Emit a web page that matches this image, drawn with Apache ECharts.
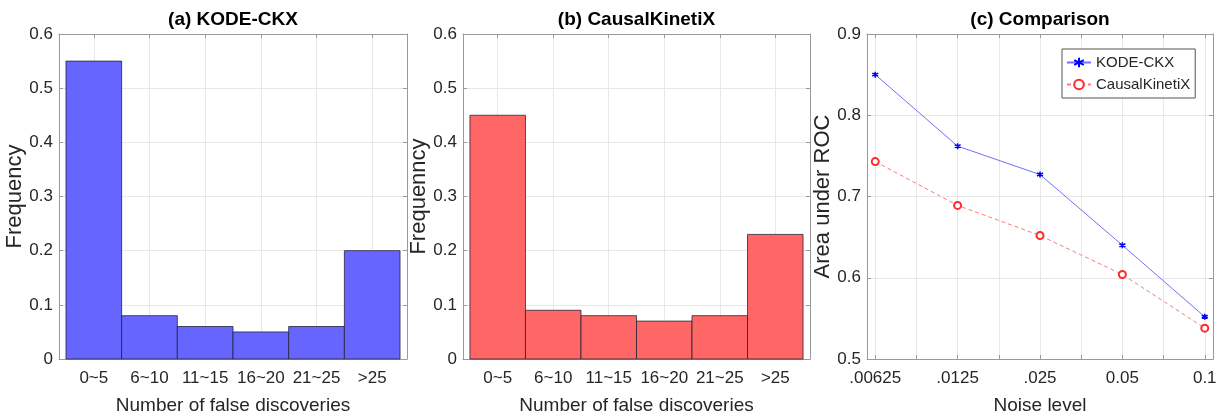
<!DOCTYPE html>
<html>
<head>
<meta charset="utf-8">
<script src="https://cdn.jsdelivr.net/npm/echarts@6/dist/echarts.min.js"></script>
<style>html,body{margin:0;padding:0;background:#fff;}#c{width:1223px;height:420px;}</style>
</head>
<body>
<div id="c"></div>
<script>
// ---- data ----
const categories = ['0~5', '6~10', '11~15', '16~20', '21~25', '>25'];
const kodeFreq = [0.55, 0.08, 0.06, 0.05, 0.06, 0.20];
const ckxFreq = [0.45, 0.09, 0.08, 0.07, 0.08, 0.23];
const noiseLevels = ['.00625', '.0125', '.025', '0.05', '0.1'];
const kodeAUC = [0.850, 0.762, 0.727, 0.640, 0.552];
const ckxAUC = [0.743, 0.689, 0.652, 0.604, 0.538];
const titles = ['(a) KODE-CKX', '(b) CausalKinetiX', '(c) Comparison'];
const yNames = ['Frequency', 'Frequenncy', 'Area under ROC'];
const xNames = ['Number of false discoveries', 'Number of false discoveries', 'Noise level'];
const seriesNames = ['KODE-CKX', 'CausalKinetiX'];

// ---- style ----
const FONT = '"Liberation Sans", Arial, Helvetica, sans-serif';
const TXT = '#262626';
const FRAME = '#9a9a9a';
const GRIDC = '#e8e8e8';
const grids = [
  {left: 59, top: 34, width: 348, height: 326},
  {left: 463, top: 34, width: 347, height: 326},
  {left: 867, top: 34, width: 346, height: 326}
];

const catIdx = categories.map((_, i) => i);
const noiseIdx = noiseLevels.map((_, i) => i + 1);
const noiseMinor = [];
for (let i = 0; i < noiseLevels.length * 2 - 1; i++) noiseMinor.push(1 + i * 0.5);

function xAxes(gi, min, max, tickVals, labelVals, fmt, name) {
  return [
    {
      type: 'value', gridIndex: gi, min: min, max: max, position: 'bottom',
      name: name, nameLocation: 'middle', nameGap: 37,
      nameTextStyle: {fontFamily: FONT, fontSize: 19, color: TXT},
      axisLine: {show: true, onZero: false, lineStyle: {color: FRAME, width: 1}},
      axisTick: {show: true, inside: true, length: 4, customValues: tickVals, lineStyle: {color: FRAME}},
      axisLabel: {show: true, customValues: labelVals, formatter: fmt, margin: 11,
                  fontFamily: FONT, fontSize: 17, color: TXT},
      splitLine: {show: true, lineStyle: {color: GRIDC, width: 1}}
    },
    {
      type: 'value', gridIndex: gi, min: min, max: max, position: 'top',
      axisLine: {show: true, onZero: false, lineStyle: {color: FRAME, width: 1}},
      axisTick: {show: true, inside: true, length: 4, customValues: tickVals, lineStyle: {color: FRAME}},
      axisLabel: {show: false},
      splitLine: {show: false}
    }
  ];
}
function yAxes(gi, min, max, interval, name, gap) {
  return [
    {
      type: 'value', gridIndex: gi, min: min, max: max, interval: interval, position: 'left',
      name: name, nameLocation: 'middle', nameGap: gap,
      nameTextStyle: {fontFamily: FONT, fontSize: 22, color: TXT},
      axisLine: {show: true, onZero: false, lineStyle: {color: FRAME, width: 1}},
      axisTick: {show: true, inside: true, length: 4, lineStyle: {color: FRAME}},
      axisLabel: {show: true, margin: 6, fontFamily: FONT, fontSize: 17, color: TXT,
                  formatter: v => (Math.round(v * 10) / 10).toString()},
      splitLine: {show: true, lineStyle: {color: GRIDC, width: 1}}
    },
    {
      type: 'value', gridIndex: gi, min: min, max: max, interval: interval, position: 'right',
      axisLine: {show: true, onZero: false, lineStyle: {color: FRAME, width: 1}},
      axisTick: {show: true, inside: true, length: 4, lineStyle: {color: FRAME}},
      axisLabel: {show: false},
      splitLine: {show: false}
    }
  ];
}

const catFmt = v => categories[Math.round(v)] || '';
const noiseFmt = v => noiseLevels[Math.round(v) - 1] || '';

function histSeries(axisIdx, values, fill) {
  return {
    type: 'custom', xAxisIndex: axisIdx, yAxisIndex: axisIdx,
    data: values.map((v, i) => [i, v]),
    renderItem: function (params, api) {
      const x = api.value(0), y = api.value(1);
      const p0 = api.coord([x - 0.5, y]);
      const p1 = api.coord([x + 0.5, 0]);
      return {
        type: 'rect',
        shape: {x: p0[0], y: p0[1], width: p1[0] - p0[0], height: p1[1] - p0[1]},
        style: {fill: fill, stroke: 'rgba(30,30,50,0.75)', lineWidth: 1}
      };
    },
    z: 3
  };
}

const option = {
  backgroundColor: '#ffffff',
  animation: false,
  title: titles.map((t, i) => ({
    text: t, left: grids[i].left + grids[i].width / 2, top: 10, textAlign: 'center', padding: 0,
    textStyle: {fontFamily: FONT, fontSize: 19, fontWeight: 'bold', color: '#000'}
  })),
  legend: {
    orient: 'vertical', left: 1062, top: 49, padding: [6, 5, 6, 4], itemGap: 7,
    itemWidth: 24, itemHeight: 12,
    borderColor: '#555', borderWidth: 1, backgroundColor: '#fff',
    textStyle: {fontFamily: FONT, fontSize: 15, lineHeight: 15, color: TXT},
    data: seriesNames
  },
  grid: grids,
  xAxis: [].concat(
    xAxes(0, -0.625, 5.625, catIdx, catIdx, catFmt, xNames[0]),
    xAxes(1, -0.625, 5.625, catIdx, catIdx, catFmt, xNames[1]),
    xAxes(2, 0.9, 5.1, noiseMinor, noiseIdx, noiseFmt, xNames[2])
  ),
  yAxis: [].concat(
    yAxes(0, 0, 0.6, 0.1, yNames[0], 30),
    yAxes(1, 0, 0.6, 0.1, yNames[1], 30),
    yAxes(2, 0.5, 0.9, 0.1, yNames[2], 30)
  ),
  series: [
    histSeries(0, kodeFreq, '#6666ff'),
    histSeries(2, ckxFreq, '#ff6666'),
    {
      name: seriesNames[0], type: 'line', xAxisIndex: 4, yAxisIndex: 4,
      data: kodeAUC.map((v, i) => [noiseIdx[i], v]),
      symbol: 'path://M0,-5L0,5M-4.33,-2.5L4.33,2.5M-4.33,2.5L4.33,-2.5', symbolSize: 6,
      itemStyle: {color: '#0000ff', borderColor: '#0000ff', borderWidth: 1.6},
      lineStyle: {color: '#7070ff', width: 1, type: 'solid'},
      z: 4
    },
    {
      name: seriesNames[1], type: 'line', xAxisIndex: 4, yAxisIndex: 4,
      data: ckxAUC.map((v, i) => [noiseIdx[i], v]),
      symbol: 'emptyCircle', symbolSize: 7,
      itemStyle: {color: '#ff2a2a', borderColor: '#ff2a2a', borderWidth: 1.2},
      lineStyle: {color: '#ff7a7a', width: 1, type: [4, 3]},
      z: 4
    }
  ]
};

const chart = echarts.init(document.getElementById('c'), null, {renderer: 'canvas'});
chart.setOption(option);
</script>
</body>
</html>
